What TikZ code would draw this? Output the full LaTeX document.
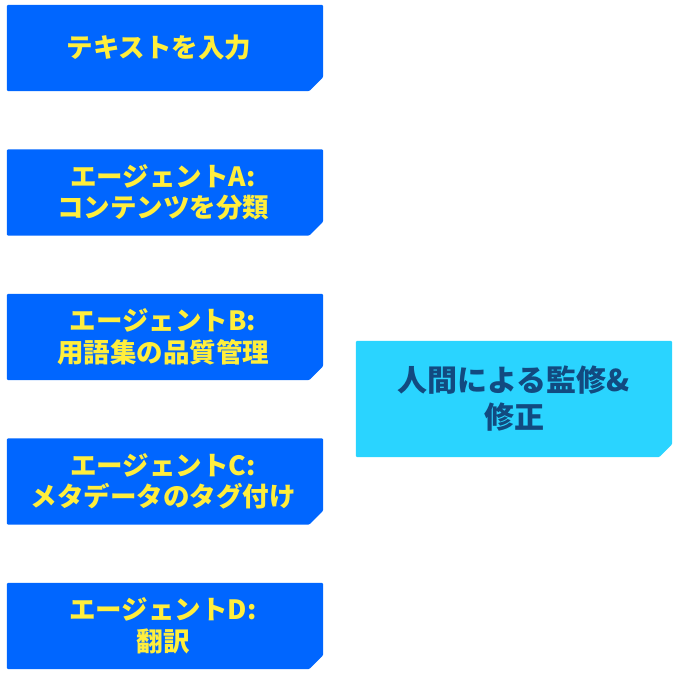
\documentclass[tikz,border=0pt]{standalone}
\usepackage{fontspec}
\setmainfont{Noto Sans CJK JP}
\usetikzlibrary{backgrounds}
\definecolor{boxblue}{RGB}{0,102,255}
\definecolor{boxcyan}{RGB}{42,212,255}
\definecolor{txtyellow}{RGB}{255,238,60}
\definecolor{txtnavy}{RGB}{18,74,128}
\tikzset{
  x=1pt,y=-1pt,
  agentbox/.style={minimum width=316pt,minimum height=86pt,inner sep=0pt,
    align=center,text=txtyellow,font=\fontsize{26.5}{31.5}\selectfont\bfseries},
  humanbox/.style={minimum width=316pt,minimum height=116pt,inner sep=0pt,
    align=center,text=txtnavy,font=\fontsize{30}{37}\selectfont\bfseries},
}
\newcommand{\chamferfill}[3]{%
  \fill[#2,rounded corners=1.2pt] (#1.north west) -- (#1.north east)
    -- ([yshift=#3]#1.south east) -- ([xshift=-#3]#1.south east)
    -- (#1.south west) -- cycle;}
\newcommand{\tr}[1]{\hspace*{#1}}
\begin{document}
\begin{tikzpicture}
\useasboundingbox (0,0) rectangle (679,676);
\node[agentbox] (input) at (165,48) {テキストを入力\tr{12pt}};
\node[agentbox] (agA) at (165,192.5) {エージェントA:\tr{4pt}\\コンテンツを分類\tr{4pt}};
\node[agentbox] (agB) at (165,337) {エージェントB:\tr{4pt}\\用語集の品質管理\tr{4pt}};
\node[agentbox] (agC) at (165,481.5) {エージェントC:\tr{4pt}\\メタデータのタグ付け\tr{4pt}};
\node[agentbox] (agD) at (165,626) {エージェントD:\tr{4pt}\\翻訳\tr{4pt}};
\node[humanbox] (human) at (514,399) {人間による監修\&\\修正};
\begin{scope}[on background layer]
\chamferfill{input}{boxblue}{14pt}
\chamferfill{agA}{boxblue}{14pt}
\chamferfill{agB}{boxblue}{14pt}
\chamferfill{agC}{boxblue}{14pt}
\chamferfill{agD}{boxblue}{14pt}
\chamferfill{human}{boxcyan}{13pt}
\end{scope}
\end{tikzpicture}
\end{document}
